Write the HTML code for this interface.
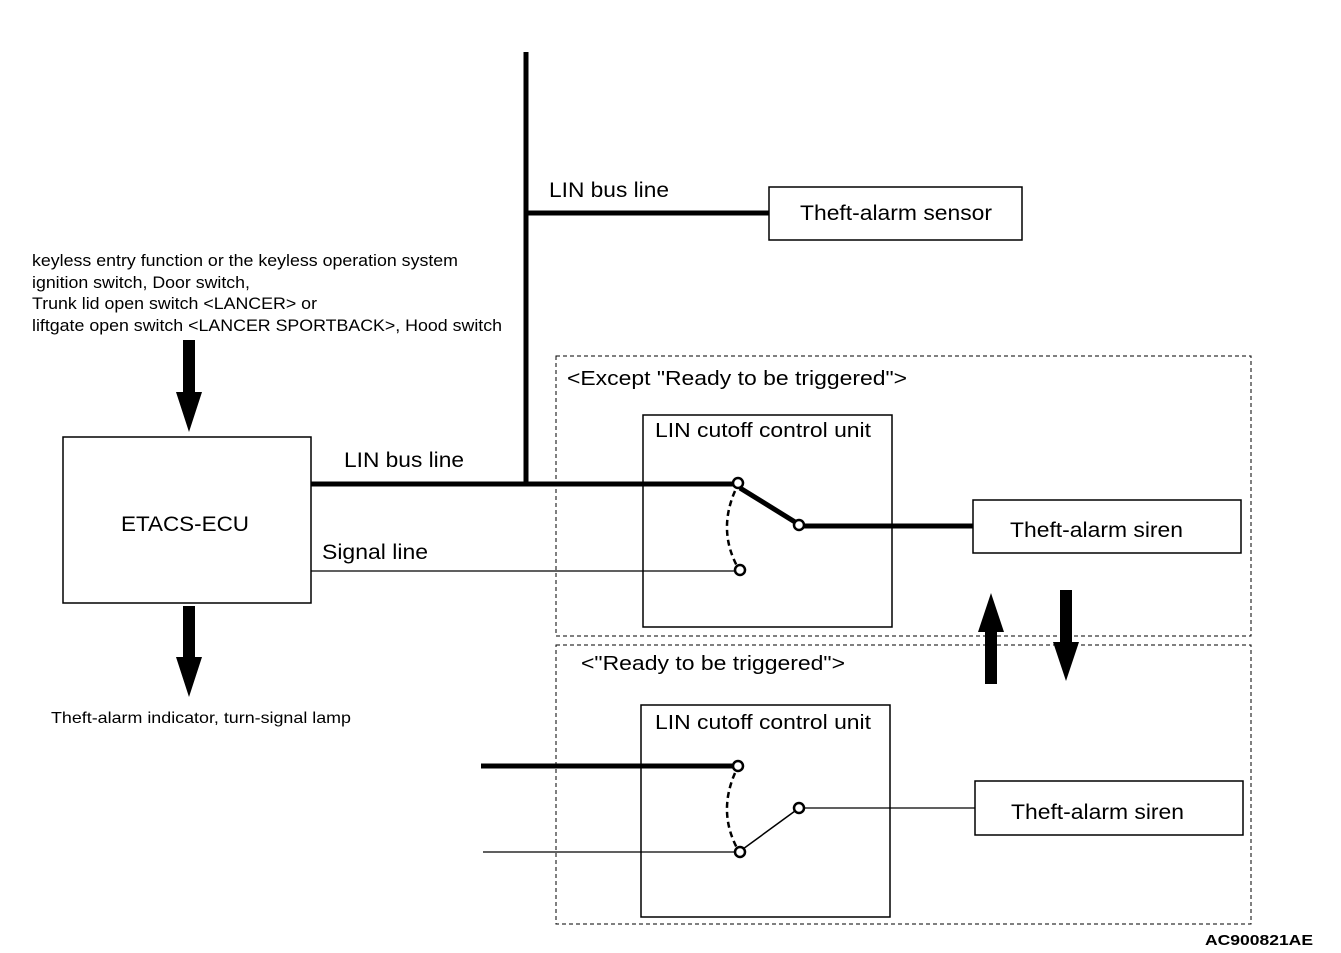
<!DOCTYPE html>
<html><head><style>body{margin:0;background:#fff}svg{display:block}text{font-family:"Liberation Sans",sans-serif;fill:#000}</style></head>
<body>
<svg width="1341" height="953" viewBox="0 0 1341 953" xmlns="http://www.w3.org/2000/svg">
<g fill="none" stroke="#000">
<line x1="526" y1="52" x2="526" y2="486" stroke-width="5"/>
<line x1="526" y1="213" x2="769" y2="213" stroke-width="5"/>
<rect x="769" y="187" width="253" height="53" stroke-width="1.5"/>
<rect x="63" y="437" width="248" height="166" stroke-width="1.5"/>
<line x1="311" y1="484" x2="733" y2="484" stroke-width="5"/>
<line x1="740" y1="488" x2="795" y2="522" stroke-width="5"/>
<line x1="804" y1="526" x2="973" y2="526" stroke-width="5"/>
<rect x="973" y="500" width="268" height="53" stroke-width="1.5"/>
<line x1="311" y1="571" x2="735" y2="571" stroke-width="1.2"/>
<path d="M735 491 Q718 530 737 566" stroke-width="2.5" stroke-dasharray="6,4"/>
<rect x="643" y="415" width="249" height="212" stroke-width="1.5"/>
<rect x="556" y="356" width="695" height="280" stroke-width="1" stroke-dasharray="4,3"/>
<rect x="556" y="645" width="695" height="279" stroke-width="1" stroke-dasharray="4,3"/>
<line x1="481" y1="766" x2="733" y2="766" stroke-width="5"/>
<line x1="483" y1="852" x2="735" y2="852" stroke-width="1.2"/>
<path d="M735 773 Q718 812 737 848" stroke-width="2.5" stroke-dasharray="6,4"/>
<line x1="743" y1="849" x2="795" y2="811" stroke-width="1.5"/>
<line x1="804" y1="808" x2="975" y2="808" stroke-width="1.2"/>
<rect x="975" y="781" width="268" height="54" stroke-width="1.5"/>
<rect x="641" y="705" width="249" height="212" stroke-width="1.5"/>
<g fill="#fff" stroke-width="2.5">
<circle cx="738" cy="483" r="5"/><circle cx="799" cy="525" r="5"/><circle cx="740" cy="570" r="5"/>
<circle cx="738" cy="766" r="5"/><circle cx="740" cy="852" r="5"/><circle cx="799" cy="808" r="5"/>
</g>
</g>
<g fill="#000">
<polygon points="183,340 195,340 195,392 202,392 189,432 176,392 183,392"/>
<polygon points="183,606 195,606 195,657 202,657 189,697 176,657 183,657"/>
<polygon points="985,684 997,684 997,632 1004,632 991,593 978,632 985,632"/>
<polygon points="1060,590 1072,590 1072,642 1079,642 1066,681 1053,642 1060,642"/>
</g>
<g lengthAdjust="spacingAndGlyphs">
<text x="549" y="197" font-size="21" textLength="120" lengthAdjust="spacingAndGlyphs">LIN bus line</text>
<text x="800" y="220" font-size="21" textLength="192" lengthAdjust="spacingAndGlyphs">Theft-alarm sensor</text>
<text x="32" y="266" font-size="17" textLength="426" lengthAdjust="spacingAndGlyphs">keyless entry function or the keyless operation system</text>
<text x="32" y="288" font-size="17" textLength="218" lengthAdjust="spacingAndGlyphs">ignition switch, Door switch,</text>
<text x="32" y="309" font-size="17" textLength="285" lengthAdjust="spacingAndGlyphs">Trunk lid open switch &lt;LANCER&gt; or</text>
<text x="32" y="331" font-size="17" textLength="470" lengthAdjust="spacingAndGlyphs">liftgate open switch &lt;LANCER SPORTBACK&gt;, Hood switch</text>
<text x="567" y="385" font-size="20" textLength="340" lengthAdjust="spacingAndGlyphs">&lt;Except "Ready to be triggered"&gt;</text>
<text x="655" y="437" font-size="20" textLength="216" lengthAdjust="spacingAndGlyphs">LIN cutoff control unit</text>
<text x="344" y="467" font-size="21" textLength="120" lengthAdjust="spacingAndGlyphs">LIN bus line</text>
<text x="121" y="531" font-size="21" textLength="128" lengthAdjust="spacingAndGlyphs">ETACS-ECU</text>
<text x="1010" y="537" font-size="21" textLength="173" lengthAdjust="spacingAndGlyphs">Theft-alarm siren</text>
<text x="322" y="559" font-size="21" textLength="106" lengthAdjust="spacingAndGlyphs">Signal line</text>
<text x="581" y="670" font-size="20" textLength="264" lengthAdjust="spacingAndGlyphs">&lt;"Ready to be triggered"&gt;</text>
<text x="51" y="723" font-size="16" textLength="300" lengthAdjust="spacingAndGlyphs">Theft-alarm indicator, turn-signal lamp</text>
<text x="655" y="729" font-size="20" textLength="216" lengthAdjust="spacingAndGlyphs">LIN cutoff control unit</text>
<text x="1011" y="819" font-size="21" textLength="173" lengthAdjust="spacingAndGlyphs">Theft-alarm siren</text>
<text x="1205" y="945" font-size="15" font-weight="bold" textLength="108" lengthAdjust="spacingAndGlyphs">AC900821AE</text>
</g>
</svg>
</body></html>
